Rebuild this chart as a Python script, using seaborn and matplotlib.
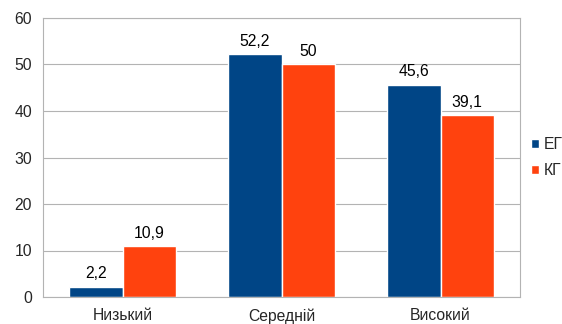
import pandas as pd
import numpy as np
import matplotlib.pyplot as plt
import seaborn as sns

# data
categories = ["Низький", "Середній", "Високий"]
series = ["ЕГ", "КГ"]
eg_values = [2.2, 52.2, 45.6]
kg_values = [10.9, 50.0, 39.1]
value_labels = {"ЕГ": ["2,2", "52,2", "45,6"], "КГ": ["10,9", "50", "39,1"]}
colors = ["#004586", "#ff420e"]

df = pd.DataFrame({
    "category": categories * 2,
    "group": ["ЕГ"] * 3 + ["КГ"] * 3,
    "value": eg_values + kg_values,
})

sns.set_style("white")
plt.rcParams["font.family"] = ["Liberation Sans", "DejaVu Sans"]

fs = 11.3
fig = plt.figure(figsize=(5.62, 3.24), dpi=100)
ax = fig.add_axes([43 / 562, 1 - 297 / 324, (520 - 43) / 562, (297 - 18) / 324])

sns.barplot(data=df, x="category", y="value", hue="group", order=categories,
            hue_order=series, palette=colors, width=0.667, gap=0,
            saturation=1, ax=ax, legend=True)

for cont, name in zip(ax.containers, series):
    ax.bar_label(cont, labels=value_labels[name], padding=4, fontsize=fs, color="black")

ax.set_ylim(0, 60)
ax.set_xlim(-0.5, 2.5)
ax.set_yticks(np.arange(0, 61, 10))
ax.yaxis.grid(True, color="#b3b3b3", linewidth=0.8)
ax.set_axisbelow(True)
ax.set_xlabel("")
ax.set_ylabel("")

for side in ["left", "bottom", "right", "top"]:
    ax.spines[side].set_visible(True)
    ax.spines[side].set_color("#b3b3b3")
    ax.spines[side].set_linewidth(0.8)

ax.tick_params(axis="y", length=5, color="#b3b3b3", labelsize=fs, pad=3)
# labels sit low like the reference but kept fully inside the image
ax.tick_params(axis="x", which="major", length=0, labelsize=fs, pad=8)
ax.set_xticks([-0.5, 0.5, 1.5, 2.5], minor=True)
ax.tick_params(axis="x", which="minor", length=5, color="#b3b3b3")

ax.legend(loc="center left", bbox_to_anchor=(1.0, 0.5), frameon=False,
          handlelength=0.5, handleheight=0.5, handletextpad=0.3,
          labelspacing=0.75, fontsize=fs, borderaxespad=0.3)

fig.savefig("out.png", dpi=100)
